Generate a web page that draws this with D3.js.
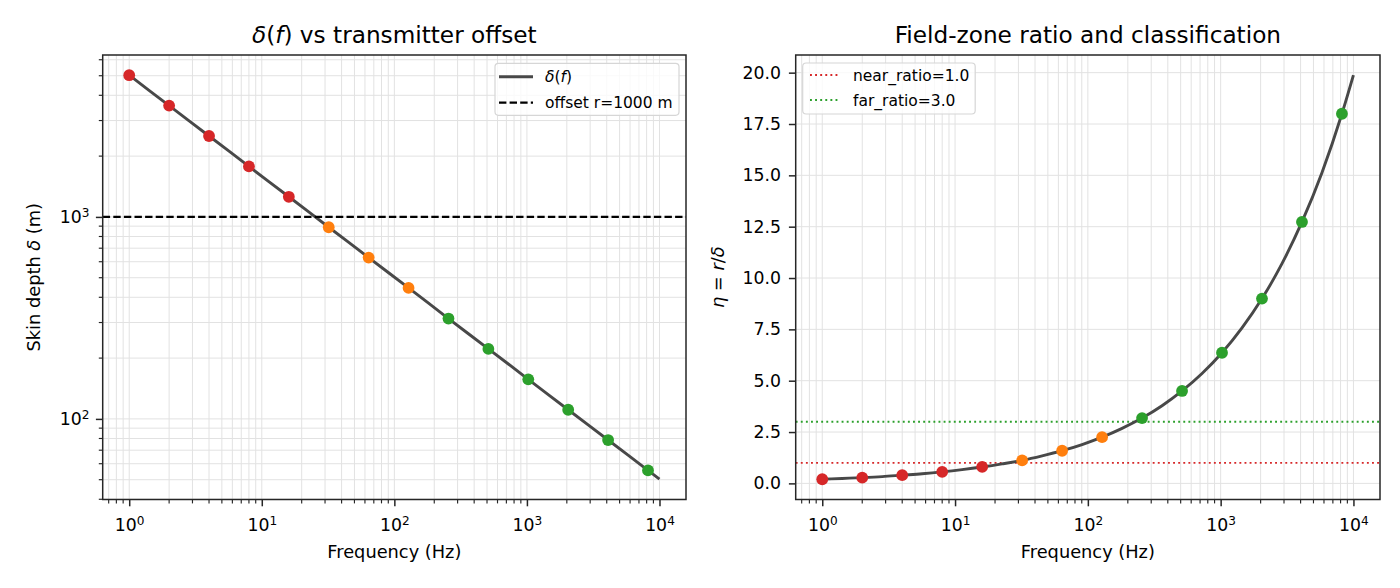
<!DOCTYPE html>
<html><head><meta charset="utf-8">
<script src="https://cdn.jsdelivr.net/npm/d3@7/dist/d3.min.js"></script>
<style>
body{margin:0;background:#fff;}
svg, svg text{font-family:"DejaVu Sans",sans-serif;}
</style></head>
<body><svg id="chart" width="1400" height="588"></svg>
<script>
// ---- data ----
const freqs = [1,2,4,8,16,32,64,128,256,512,1024,2048,4096,8192];
const skinDepth = [5030,3557,2515,1778,1258,889,629,445,314,222,157,111,78.6,55.6];
const etaValues = [0.20,0.28,0.40,0.56,0.80,1.12,1.59,2.25,3.18,4.50,6.36,9.00,12.73,18.00];
const zones = ["near","near","near","near","near","trans","trans","trans","far","far","far","far","far","far"];
const curveFreq = [1,1.41,2,2.83,4,5.66,8,11.3,16,22.6,32,45.3,64,90.5,128,181,256,362,512,724,1024,1448,2048,2896,4096,5793,8192,10000];
const curveDelta = [5030,4229,3557,2991,2515,2115,1778,1495,1258,1058,889,748,629,529,445,374,314,264,222,187,157,132,111,93.4,78.6,66.1,55.6,50.3];
const curveEta = [0.20,0.24,0.28,0.33,0.40,0.47,0.56,0.67,0.80,0.95,1.12,1.34,1.59,1.89,2.25,2.68,3.18,3.78,4.50,5.35,6.36,7.57,9.00,10.70,12.73,15.13,18.00,19.88];
const offsetR = 1000;
const nearRatio = 1.0, farRatio = 3.0;
const etaTicks = [0,2.5,5,7.5,10,12.5,15,17.5,20];
const xMajorTicks = [1,10,100,1000,10000];
const deltaMajorTicks = [100,1000];

const zoneColor = {near:"#d62728", trans:"#ff7f0e", far:"#2ca02c"};
const lineColor = "#484848";
const gridColor = "#e2e2e2";
const spineColor = "#262626";
const tickFont = "17.3px", labelFont = "17.8px", titleFont = "23.2px", legendFont = "15.5px";
const majorLen = 6.8, minorLen = 3.9;

const svg = d3.select("#chart");
const plotTop = 55, plotBottom = 499.5;

function minorLogTicks(lo, hi){
  const out=[];
  for(let e=Math.floor(Math.log10(lo))-1;e<=Math.ceil(Math.log10(hi));e++){
    for(let m=1;m<10;m++){const v=m*Math.pow(10,e); if(v>=lo&&v<=hi) out.push(v);}
  }
  return out;
}

function supLabel(sel, exp){
  sel.text(null);
  sel.append("tspan").text("10");
  sel.append("tspan").attr("dy","-0.5em").attr("font-size","0.7em").text(exp);
}

function styleAxis(a){
  a.attr("font-family","DejaVu Sans");
  a.select(".domain").remove();
  a.selectAll("line").attr("stroke",spineColor).attr("stroke-width",1.5);
  a.selectAll("text").attr("font-size",tickFont).attr("fill","#000");
}

function drawPanel(opts){
  const {x0,x1,xScale,yScale,yLog,g} = opts;
  const xd = xScale.domain();
  const xGridTicks = minorLogTicks(xd[0], xd[1]);
  g.append("g").selectAll("line").data(xGridTicks).join("line")
    .attr("x1",d=>xScale(d)).attr("x2",d=>xScale(d)).attr("y1",plotTop).attr("y2",plotBottom)
    .attr("stroke",gridColor).attr("stroke-width",1);
  let yGridTicks;
  if(yLog){ const yd=yScale.domain(); yGridTicks = minorLogTicks(yd[0], yd[1]); }
  else yGridTicks = etaTicks;
  g.append("g").selectAll("line").data(yGridTicks).join("line")
    .attr("x1",x0).attr("x2",x1).attr("y1",d=>yScale(d)).attr("y2",d=>yScale(d))
    .attr("stroke",gridColor).attr("stroke-width",1);
  const xAxis = d3.axisBottom(xScale).tickValues(xMajorTicks).tickSize(majorLen).tickPadding(12);
  const xa = g.append("g").attr("transform",`translate(0,${plotBottom})`).call(xAxis);
  styleAxis(xa);
  xa.selectAll("text").each(function(d){ supLabel(d3.select(this), String(Math.round(Math.log10(d)))); });
  const xMinor = minorLogTicks(xd[0], xd[1]).filter(v=>!xMajorTicks.includes(v));
  g.append("g").selectAll("line").data(xMinor).join("line")
    .attr("x1",d=>xScale(d)).attr("x2",d=>xScale(d)).attr("y1",plotBottom).attr("y2",plotBottom+minorLen)
    .attr("stroke",spineColor).attr("stroke-width",1.15);
}

function frame(g,x0,x1){
  g.append("rect").attr("x",x0).attr("y",plotTop).attr("width",x1-x0).attr("height",plotBottom-plotTop)
    .attr("fill","none").attr("stroke",spineColor).attr("stroke-width",1.5);
}

// ---------- Left panel ----------
{
  const x0=102.7, x1=686;
  const g = svg.append("g");
  const x = d3.scaleLog().domain([Math.pow(10,-0.2),Math.pow(10,4.2)]).range([x0,x1]);
  const y = d3.scaleLog().domain([39.9,6333]).range([plotBottom,plotTop]);
  drawPanel({x0,x1,xScale:x,yScale:y,yLog:true,g});
  const ya = g.append("g").attr("transform",`translate(${x0},0)`)
    .call(d3.axisLeft(y).tickValues(deltaMajorTicks).tickSize(majorLen).tickPadding(6.5));
  styleAxis(ya);
  ya.selectAll("text").each(function(d){ supLabel(d3.select(this), String(Math.round(Math.log10(d)))); });
  const yd=y.domain();
  const yMinor = minorLogTicks(yd[0],yd[1]).filter(v=>!deltaMajorTicks.includes(v));
  g.append("g").selectAll("line").data(yMinor).join("line")
    .attr("x1",x0-minorLen).attr("x2",x0).attr("y1",d=>y(d)).attr("y2",d=>y(d))
    .attr("stroke",spineColor).attr("stroke-width",1.15);
  g.append("path").datum(curveFreq.map((f,i)=>[f,curveDelta[i]]))
    .attr("d",d3.line().x(d=>x(d[0])).y(d=>y(d[1])))
    .attr("fill","none").attr("stroke",lineColor).attr("stroke-width",2.9);
  g.append("line").attr("x1",x0).attr("x2",x1).attr("y1",y(offsetR)).attr("y2",y(offsetR))
    .attr("stroke","#000").attr("stroke-width",2.2).attr("stroke-dasharray","7.4,3.2");
  g.append("g").selectAll("circle").data(freqs).join("circle")
    .attr("cx",d=>x(d)).attr("cy",(d,i)=>y(skinDepth[i])).attr("r",5.9)
    .attr("fill",(d,i)=>zoneColor[zones[i]]);
  frame(g,x0,x1);
  const t = g.append("text").attr("x",(x0+x1)/2).attr("y",43).attr("text-anchor","middle").attr("font-size",titleFont);
  t.append("tspan").attr("font-style","italic").text("δ");
  t.append("tspan").text("(");
  t.append("tspan").attr("font-style","italic").text("f");
  t.append("tspan").text(") vs transmitter offset");
  g.append("text").attr("x",(x0+x1)/2).attr("y",558).attr("text-anchor","middle").attr("font-size",labelFont).text("Frequency (Hz)");
  const yl = g.append("text").attr("transform",`translate(40,${(plotTop+plotBottom)/2}) rotate(-90)`).attr("text-anchor","middle").attr("font-size",labelFont);
  yl.append("tspan").text("Skin depth ");
  yl.append("tspan").attr("font-style","italic").text("δ");
  yl.append("tspan").text(" (m)");
  const lg = g.append("g");
  lg.append("rect").attr("x",495).attr("y",63.3).attr("width",184).attr("height",52).attr("rx",3.5)
    .attr("fill","#fff").attr("fill-opacity",0.8).attr("stroke","#d6d6d6").attr("stroke-width",1.2);
  lg.append("line").attr("x1",499).attr("x2",533).attr("y1",76.7).attr("y2",76.7).attr("stroke",lineColor).attr("stroke-width",2.9);
  lg.append("line").attr("x1",499).attr("x2",533).attr("y1",102.7).attr("y2",102.7).attr("stroke","#000").attr("stroke-width",2.2).attr("stroke-dasharray","7.4,3.2");
  const l1 = lg.append("text").attr("x",545).attr("y",82).attr("font-size",legendFont);
  l1.append("tspan").attr("font-style","italic").text("δ");
  l1.append("tspan").text("(");
  l1.append("tspan").attr("font-style","italic").text("f");
  l1.append("tspan").text(")");
  lg.append("text").attr("x",545).attr("y",108).attr("font-size",legendFont).text("offset r=1000 m");
}

// ---------- Right panel ----------
{
  const x0=795.7, x1=1380;
  const g = svg.append("g");
  const x = d3.scaleLog().domain([Math.pow(10,-0.2),Math.pow(10,4.2)]).range([x0,x1]);
  const y = d3.scaleLinear().domain([-0.785,20.86]).range([plotBottom,plotTop]);
  drawPanel({x0,x1,xScale:x,yScale:y,yLog:false,g});
  const ya = g.append("g").attr("transform",`translate(${x0},0)`)
    .call(d3.axisLeft(y).tickValues(etaTicks).tickFormat(d3.format(".1f")).tickSize(majorLen).tickPadding(8));
  styleAxis(ya);
  g.append("line").attr("x1",x0).attr("x2",x1).attr("y1",y(nearRatio)).attr("y2",y(nearRatio))
    .attr("stroke",zoneColor.near).attr("stroke-width",1.8).attr("stroke-dasharray","1.9,3.2");
  g.append("line").attr("x1",x0).attr("x2",x1).attr("y1",y(farRatio)).attr("y2",y(farRatio))
    .attr("stroke",zoneColor.far).attr("stroke-width",1.8).attr("stroke-dasharray","1.9,3.2");
  g.append("path").datum(curveFreq.map((f,i)=>[f,curveEta[i]]))
    .attr("d",d3.line().x(d=>x(d[0])).y(d=>y(d[1])).curve(d3.curveMonotoneX))
    .attr("fill","none").attr("stroke",lineColor).attr("stroke-width",2.9);
  g.append("g").selectAll("circle").data(freqs).join("circle")
    .attr("cx",d=>x(d)).attr("cy",(d,i)=>y(etaValues[i])).attr("r",5.9)
    .attr("fill",(d,i)=>zoneColor[zones[i]]);
  frame(g,x0,x1);
  g.append("text").attr("x",(x0+x1)/2).attr("y",43).attr("text-anchor","middle").attr("font-size",titleFont).text("Field-zone ratio and classification");
  g.append("text").attr("x",(x0+x1)/2).attr("y",558).attr("text-anchor","middle").attr("font-size",labelFont).text("Frequency (Hz)");
  const yl = g.append("text").attr("transform",`translate(724,${(plotTop+plotBottom)/2}) rotate(-90)`).attr("text-anchor","middle").attr("font-size",labelFont);
  yl.append("tspan").attr("font-style","italic").text("η");
  yl.append("tspan").text(" = ");
  yl.append("tspan").attr("font-style","italic").text("r");
  yl.append("tspan").text("/");
  yl.append("tspan").attr("font-style","italic").text("δ");
  const lg = g.append("g");
  lg.append("rect").attr("x",802.7).attr("y",63).attr("width",172.5).attr("height",51).attr("rx",3.5)
    .attr("fill","#fff").attr("fill-opacity",0.8).attr("stroke","#d6d6d6").attr("stroke-width",1.2);
  lg.append("line").attr("x1",810).attr("x2",838).attr("y1",75).attr("y2",75).attr("stroke",zoneColor.near).attr("stroke-width",1.8).attr("stroke-dasharray","1.9,3.2");
  lg.append("line").attr("x1",810).attr("x2",838).attr("y1",100).attr("y2",100).attr("stroke",zoneColor.far).attr("stroke-width",1.8).attr("stroke-dasharray","1.9,3.2");
  lg.append("text").attr("x",853).attr("y",80.5).attr("font-size",legendFont).text("near_ratio=1.0");
  lg.append("text").attr("x",853).attr("y",105.5).attr("font-size",legendFont).text("far_ratio=3.0");
}
</script></body></html>
